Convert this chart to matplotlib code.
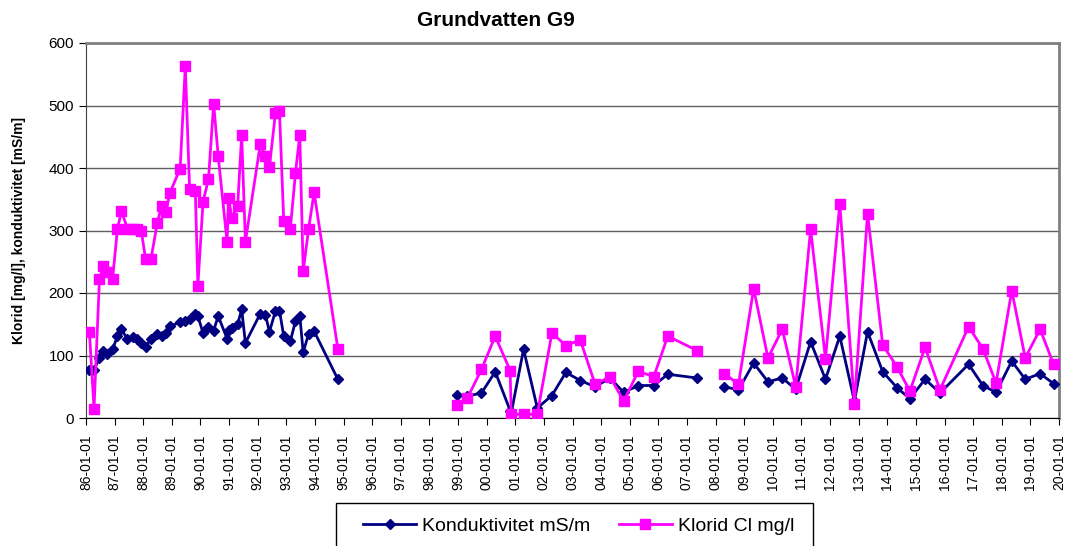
import matplotlib
matplotlib.use("Agg")
import matplotlib.pyplot as plt
import numpy as np
from matplotlib.patches import Rectangle
from matplotlib.ticker import FuncFormatter, MultipleLocator

plt.rcParams["font.family"] = ["Liberation Sans", "DejaVu Sans"]

# Sampling dates as decimal years; nan rows break the line at the gaps
dates = [
    1986.12, 1986.28, 1986.47, 1986.61, 1986.75, 1986.93, 1987.10, 1987.24,
    1987.45, 1987.63, 1987.78, 1987.93, 1988.08, 1988.27, 1988.49, 1988.64,
    1988.79, 1988.93, 1989.29, 1989.47, 1989.62, 1989.82, 1989.91, 1990.09,
    1990.28, 1990.46, 1990.62, 1990.93, 1990.98, 1991.10, 1991.30, 1991.44,
    1991.57, 1992.09, 1992.27, 1992.41, 1992.62, 1992.76, 1992.91, 1993.14,
    1993.32, 1993.47, 1993.59, 1993.78, 1993.97, 1994.80,
    1996.50,
    1998.95, 1999.33, 1999.82, 2000.30, 2000.82, 2000.86, 2001.29, 2001.77,
    2002.28, 2002.77, 2003.27, 2003.79, 2004.31, 2004.79, 2005.30, 2005.84,
    2006.33, 2007.35,
    2007.80,
    2008.31, 2008.80, 2009.33, 2009.83, 2010.33, 2010.80, 2011.32, 2011.84,
    2012.34, 2012.85, 2013.31, 2013.84, 2014.35, 2014.79, 2015.32, 2015.84,
    2016.84, 2017.34, 2017.80, 2018.35, 2018.82, 2019.34, 2019.81,
]

konduktivitet = [
    77, 77, 96, 108, 103, 110, 131, 142,
    126, 129, 127, 120, 114, 126, 135, 131,
    136, 147, 153, 156, 159, 166, 163, 136,
    146, 140, 163, 127, 141, 144, 150, 174,
    120, 167, 165, 138, 171, 172, 131, 123,
    155, 164, 105, 135, 139, 62,
    np.nan,
    37, 35, 40, 74, 12, 8, 110, 16,
    36, 73, 60, 50, 64, 41, 52, 52,
    70, 64,
    np.nan,
    50, 45, 88, 58, 64, 46, 122, 62,
    131, 27, 138, 74, 48, 31, 62, 40,
    86, 52, 41, 91, 62, 71, 55,
]

klorid = [
    137, 15, 222, 244, 234, 223, 303, 331,
    303, 302, 303, 300, 255, 254, 312, 339,
    329, 360, 399, 563, 367, 363, 212, 346,
    382, 503, 419, 281, 352, 320, 340, 453,
    282, 438, 419, 402, 488, 491, 315, 303,
    392, 453, 235, 303, 361, 111,
    np.nan,
    21, 32, 78, 131, 76, 6, 6, 6,
    136, 116, 125, 54, 66, 27, 75, 66,
    131, 108,
    np.nan,
    71, 54, 207, 96, 142, 50, 302, 95,
    343, 23, 327, 117, 81, 43, 113, 45,
    146, 111, 56, 204, 96, 142, 86,
]

W, H = 1070, 546
fig = plt.figure(figsize=(W / 100, H / 100), dpi=100)
ax = fig.add_axes([86 / W, 1 - 418 / H, 973 / W, 375 / H])

ax.plot(dates, konduktivitet, color="#000080", lw=2.0, marker="D", ms=5.5,
        label="Konduktivitet mS/m", zorder=3)
ax.plot(dates, klorid, color="#FF00FF", lw=2.0, marker="s", ms=6.5,
        label="Klorid Cl mg/l", zorder=4)

ax.set_xlim(1986, 2020)
ax.set_ylim(0, 600)
ax.yaxis.set_major_locator(MultipleLocator(100))
ax.xaxis.set_major_locator(MultipleLocator(1))
ax.xaxis.set_major_formatter(FuncFormatter(lambda v, p: f"{int(round(v)) % 100:02d}-01-01"))
ax.tick_params(axis="x", labelsize=10, rotation=90, direction="out", length=5, pad=7)
ax.tick_params(axis="y", labelsize=11, direction="out", length=5)

ax.grid(True, axis="y", color="#606060", lw=1.0)
ax.set_axisbelow(True)
for side in ["top", "right"]:
    ax.spines[side].set_color("#808080")
    ax.spines[side].set_linewidth(2)
ax.spines["left"].set_color("#404040")
ax.spines["bottom"].set_color("black")

ax.set_ylabel("Klorid [mg/l], konduktivitet [mS/m]", fontsize=10, fontweight="bold", labelpad=16)
fig.text(496 / W, 1 - 20 / H, "Grundvatten G9", fontsize=15, fontweight="bold",
         ha="center", va="center")

# legend box runs off the bottom edge, as in the original
fig.patches.append(Rectangle((336 / W, -0.05), (813 - 336) / W, 0.05 + (546 - 503) / H,
                             transform=fig.transFigure, fill=False, edgecolor="black",
                             lw=1.0, clip_on=False))
leg = fig.legend(loc="center left", bbox_to_anchor=(363 / W, 1 - 526 / H), ncol=2, fontsize=14,
                 frameon=False, handlelength=2.75, handletextpad=0.3, columnspacing=1.45,
                 borderpad=0, borderaxespad=0)
leg.legend_handles[0].set_markersize(5.5)
leg.legend_handles[1].set_markersize(7)

plt.savefig("out.png", dpi=100)
